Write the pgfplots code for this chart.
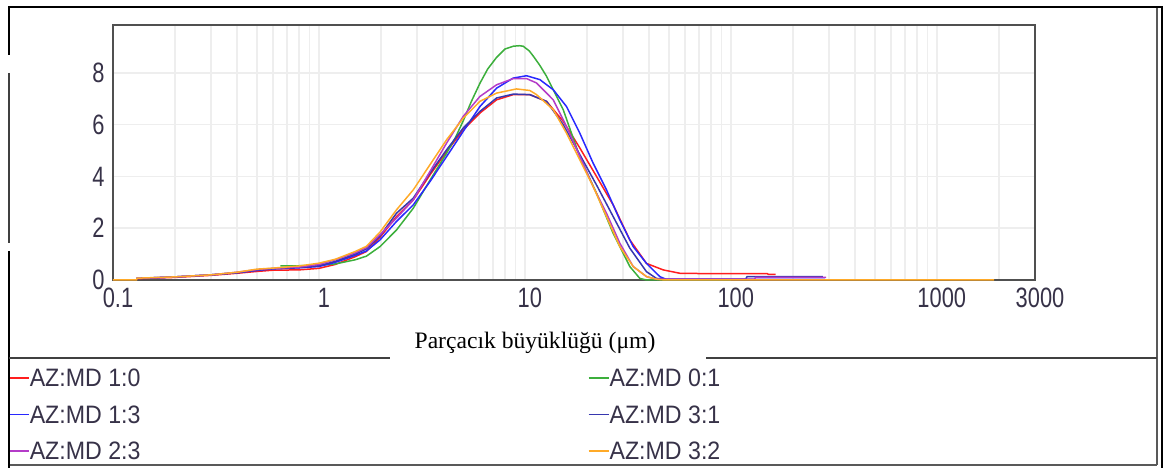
\documentclass[border=0pt]{standalone}
\usepackage{fontspec}
\setmainfont{Liberation Serif}
\newfontfamily\tickfont[FakeStretch=0.78]{Liberation Sans}
\newfontfamily\legfont[FakeStretch=0.92]{Liberation Sans}
\usepackage{pgfplots}
\pgfplotsset{compat=1.18}
\definecolor{txtgray}{RGB}{55,50,72}
\definecolor{cred}{RGB}{255,30,30}
\definecolor{cgreen}{RGB}{60,175,60}
\definecolor{cblue}{RGB}{40,40,255}
\definecolor{cdblue}{RGB}{55,55,175}
\definecolor{cpurple}{RGB}{180,60,200}
\definecolor{corange}{RGB}{255,170,40}
\definecolor{gridc}{RGB}{238,238,238}
\definecolor{axc}{RGB}{80,80,80}
\begin{document}
\begin{tikzpicture}
\begin{scope}[x=0.5pt,y=-0.5pt,yshift=234pt]
\useasboundingbox (0,0) rectangle (1165,468);
\end{scope}
\begin{axis}[
  at={(56.5pt,94pt)}, anchor=south west,
  scale only axis, width=461pt, height=127.5pt,
  xmode=log, xmin=0.1, xmax=3000, ymin=0, ymax=9.85,
  xtick={0.1,1,10,100,1000,3000}, xticklabels={0.1,1,10,100,1000,3000},
  minor xtick={0.2,0.3,0.4,0.5,0.6,0.7,0.8,0.9,2,3,4,5,6,7,8,9,20,30,40,50,60,70,80,90,200,300,400,500,600,700,800,900,2000},
  ytick={0,2,4,6,8},
  major tick length=0pt, minor tick length=0pt,
  grid=both,
  major grid style={gridc, line width=0.8pt},
  minor grid style={gridc, line width=0.8pt},
  axis line style={axc, line width=1pt},
  clip=false,
  /pgf/number format/assume math mode=true,
  tick label style={font=\tickfont\fontsize{14pt}{14pt}\selectfont, text=txtgray, inner sep=0pt},
  xticklabel style={anchor=base, yshift=-14pt, xshift=2.5pt},
  yticklabel style={anchor=east, xshift=-4pt},
  xlabel={Parçacık büyüklüğü (μm)},
  xlabel style={at={(axis description cs:0.4577,-0.2667)}, anchor=base, inner sep=0pt, font=\fontsize{11.8pt}{11.8pt}\selectfont, text=black},
  legend columns=2,
  legend cell align=left,
  legend style={at={(axis description cs:-0.1139,-0.3125)}, anchor=north west, draw=none, fill=none,
    inner sep=0pt, outer sep=0pt, column sep=0pt, row sep=0pt,
    font=\legfont\fontsize{12.6pt}{12.6pt}\selectfont, text=txtgray,
    nodes={inner sep=0pt, text height=13.65pt, text depth=4.6pt}},
  legend image code/.code={\draw[#1, line width=0.9pt] (0pt,0pt) -- (10pt,0pt);},
  every axis plot/.append style={line width=0.75pt, mark=none},
]
\addplot[cred] coordinates {(0.13,0.05)(0.2,0.1)(0.3,0.18)(0.4,0.26)(0.5,0.33)(0.6,0.38)(0.8,0.39)(1.0,0.45)(1.2,0.6)(1.5,0.9)(1.7,1.1)(1.98,1.65)(2.38,2.45)(2.87,3.09)(3.46,4.06)(4.17,4.96)(5.02,5.8)(6.05,6.45)(7.29,6.96)(8.78,7.16)(10.57,7.16)(12.74,6.9)(15.35,6.13)(18.49,5.1)(22.28,4.0)(26.84,2.9)(32.33,1.55)(38.96,0.64)(46.94,0.39)(56.55,0.26)(70,0.25)(150,0.25)(152,0.22)(165,0.22)};
\addlegendentry{\makebox[279pt][l]{AZ:MD 1:0}}
\addplot[cgreen] coordinates {(0.65,0.55)(0.8,0.55)(1.0,0.57)(1.2,0.62)(1.5,0.78)(1.7,0.92)(1.98,1.29)(2.38,1.93)(2.87,2.77)(3.46,3.85)(4.17,4.9)(4.6,5.5)(5.02,6.15)(5.5,6.9)(6.05,7.6)(6.6,8.15)(7.29,8.6)(8.0,8.92)(8.78,9.03)(9.4,9.05)(9.81,9.03)(10.5,8.85)(10.98,8.65)(11.8,8.3)(12.74,7.87)(15.35,6.58)(18.49,4.75)(22.28,3.35)(26.84,1.8)(32.33,0.52)(36.17,0.06)(38.96,0)(100,0)};
\addlegendentry{AZ:MD 0:1}
\addplot[cblue] coordinates {(0.13,0.06)(0.2,0.12)(0.3,0.2)(0.4,0.28)(0.5,0.37)(0.6,0.43)(0.8,0.47)(1.0,0.52)(1.2,0.68)(1.5,0.95)(1.7,1.12)(1.98,1.55)(2.38,2.26)(2.87,2.9)(3.46,3.8)(4.17,4.77)(5.02,5.74)(6.05,6.7)(7.29,7.41)(8.78,7.8)(10.19,7.89)(11.82,7.74)(13.73,7.35)(15.93,6.7)(18.49,5.67)(21.46,4.51)(24.91,3.48)(28.92,2.32)(33.57,1.29)(38.96,0.64)(45.22,0.13)(48.72,0.02)(286,0.02)};
\addlegendentry{\makebox[279pt][l]{AZ:MD 1:3}}
\addplot[cdblue] coordinates {(0.13,0.06)(0.2,0.12)(0.3,0.2)(0.4,0.28)(0.5,0.38)(0.6,0.44)(0.8,0.48)(1.0,0.55)(1.2,0.72)(1.5,1.0)(1.7,1.2)(1.98,1.7)(2.38,2.58)(2.87,3.16)(3.46,4.13)(4.17,5.03)(5.02,5.87)(6.05,6.51)(7.29,7.03)(8.78,7.18)(10.57,7.16)(12.74,6.9)(15.35,6.0)(18.49,4.84)(22.28,3.67)(26.84,2.45)(32.33,1.23)(38.96,0.32)(43.57,0.06)(50,0.03)(118,0.03)(120,0.13)(280,0.13)};
\addlegendentry{AZ:MD 3:1}
\addplot[cpurple] coordinates {(0.13,0.06)(0.2,0.12)(0.3,0.2)(0.4,0.3)(0.5,0.4)(0.6,0.45)(0.8,0.5)(1.0,0.6)(1.2,0.78)(1.5,1.05)(1.7,1.25)(1.98,1.75)(2.38,2.39)(2.87,3.09)(3.46,4.19)(4.17,5.29)(5.02,6.32)(6.05,7.09)(7.29,7.54)(8.78,7.78)(10.19,7.78)(11.39,7.61)(13.73,6.96)(15.93,5.93)(18.49,4.77)(21.46,3.61)(24.91,2.58)(28.92,1.42)(33.57,0.52)(38.96,0.13)(43.57,0.03)(130,0.03)(132,0.1)(290,0.1)};
\addlegendentry{\makebox[279pt][l]{AZ:MD 2:3}}
\addplot[corange] coordinates {(0.1,0)(0.13,0)(0.131,0.07)(0.2,0.12)(0.3,0.2)(0.4,0.3)(0.5,0.42)(0.6,0.46)(0.8,0.54)(1.0,0.65)(1.2,0.8)(1.5,1.1)(1.7,1.3)(1.98,1.85)(2.38,2.71)(2.87,3.48)(3.46,4.45)(4.17,5.42)(5.02,6.25)(6.05,6.9)(7.29,7.22)(9.11,7.38)(10.57,7.32)(11.39,7.16)(13.73,6.58)(15.93,5.67)(18.49,4.64)(21.46,3.61)(24.91,2.45)(28.92,1.29)(33.57,0.52)(38.96,0.13)(43.57,0.03)(48,0)(1900,0)};
\addlegendentry{AZ:MD 3:2}
\end{axis}
\begin{scope}[x=0.5pt,y=-0.5pt,yshift=234pt]
\draw[black, line width=1.2pt] (9,7) -- (1162,7);
\draw[black, line width=1.2pt] (1162,6.4) -- (1162,468);
\draw[black!65, line width=0.7pt] (1157,8) -- (1157,465);
\draw[black!65, line width=0.9pt] (9,465) -- (1157,465);
\draw[black, line width=1.2pt] (9,6.4) -- (9,55);
\draw[black!75, line width=0.6pt] (9,73) -- (9,243);
\draw[black, line width=1.2pt] (9,251) -- (9,468);
\draw[black!75, line width=0.9pt] (9,358) -- (390,358);
\draw[black!75, line width=0.9pt] (706,358) -- (1157,358);
\end{scope}
\end{tikzpicture}
\end{document}
